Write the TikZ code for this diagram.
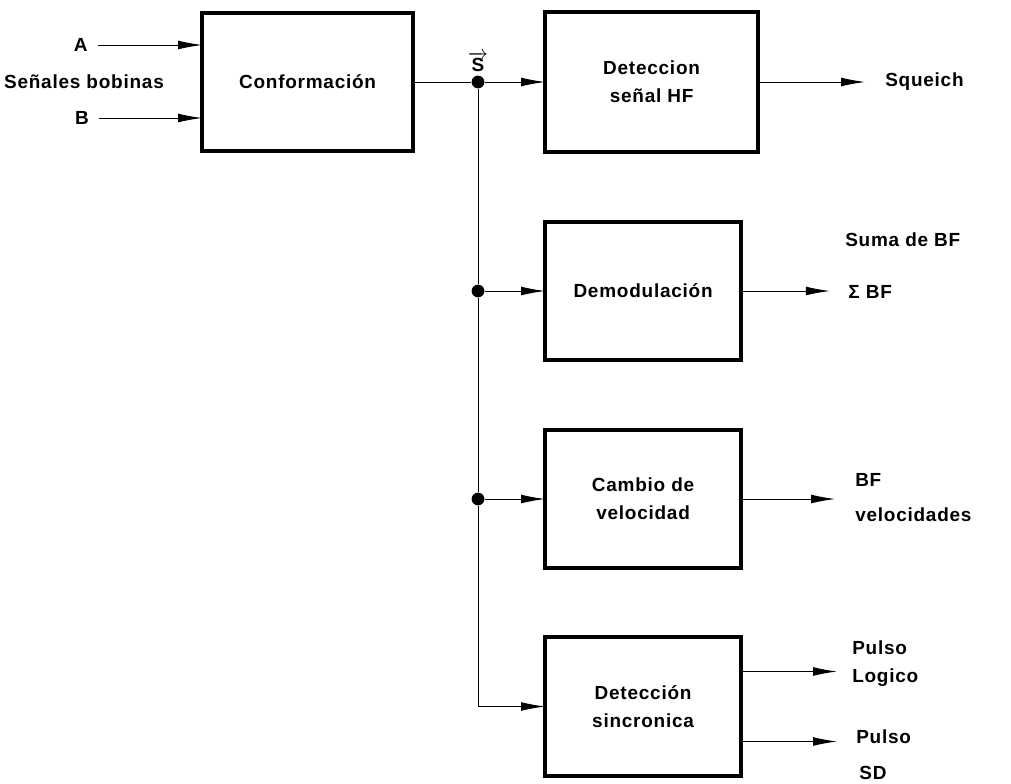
\documentclass[tikz,border=0pt]{standalone}
\usepackage{fontspec}
\setmainfont[LetterSpace=4]{Liberation Sans}
\usetikzlibrary{arrows.meta, positioning, calc}

\begin{document}
\begin{tikzpicture}[
    font=\fontsize{13.5}{20}\selectfont\bfseries,
    block/.style = {rectangle, draw, line width=2.4pt, outer sep=0pt, minimum width=4.9cm, minimum height=3.45cm, align=center},
    lbl/.style   = {align=left, anchor=west, inner sep=0pt},
    dot/.style   = {circle, fill, inner sep=0pt, minimum size=0.32cm},
    wire/.style  = {line width=0.7pt},
    arrow/.style = {line width=0.7pt, -{Latex[length=6mm, width=2.2mm]}}
]
    \useasboundingbox (0,0) rectangle (25.275,-19.6);

    % --- Bloques ---
    \node (conf)   [block, minimum width=5.275cm] at (7.69,-2.05) {Conformación};
    \node (hf)     [block, minimum width=5.325cm, minimum height=3.5cm] at (16.29,-2.05) {Deteccion\\señal HF};
    \node (demod)  [block, below=1.75cm of hf.south west, anchor=north west] {Demodulación};
    \node (cambio) [block, below=1.75cm of demod.south west, anchor=north west] {Cambio de\\velocidad};
    \node (sinc)   [block, below=1.725cm of cambio.south west, anchor=north west, minimum height=3.475cm] {Detección\\sincronica};

    % --- Entradas ---
    \node (a)   at (2.02,-1.125) {A};
    \node (bob) at (2.1,-2.05) {Señales bobinas};
    \node (b)   at (2.05,-2.95) {B};

    % --- Bus vertical ---
    \coordinate (bus) at (11.95,0);
    \node (j1) [dot] at (bus |- conf.east) {};
    \node (j2) [dot] at (bus |- demod.west) {};
    \node (j3) [dot] at (bus |- cambio.west) {};
    \coordinate (j4) at (bus |- sinc.west);
    \node (s) [above=0.05cm of j1, inner sep=1pt] {$\overrightarrow{\hbox{\bfseries S}}$};

    % --- Salidas ---
    \coordinate (o1)  at ([xshift=2.675cm]hf.east);
    \coordinate (o2)  at ([xshift=2.22cm]demod.east);
    \coordinate (o3)  at ([xshift=2.35cm]cambio.east);
    \coordinate (o4a) at ([xshift=2.4cm, yshift=0.875cm]sinc.east);
    \coordinate (o4b) at ([xshift=2.4cm, yshift=-0.875cm]sinc.east);

    \node (sq)  [lbl] at (22.125,-2.05) {Squeich};
    \node (sbf) [lbl] at (21.125,-6.65) {Suma de BF\\[0.6cm]\,Σ BF};
    \node (bfv) [lbl] at (21.375,-12.44) {BF\\[0.175cm]velocidades};
    \node (pl)  [lbl] at (21.3,-16.6) {Pulso\\Logico};
    \node (psd) [lbl] at (21.4,-18.875) {Pulso\\[0.2cm]\,SD};

    % --- Conexiones ---
    \draw [arrow, shorten <=4pt] (a) -- (a -| conf.west);
    \draw [arrow, shorten <=4pt] (b) -- (b -| conf.west);
    \draw [wire] (conf.east) -- (j1);
    \draw [arrow] (j1) -- (hf.west);
    \draw [wire] (j1) -- (j2);
    \draw [wire] (j2) -- (j3);
    \draw [wire] (j3) -- (j4);
    \draw [arrow] (j2) -- (demod.west);
    \draw [arrow] (j3) -- (cambio.west);
    \draw [arrow] (j4) -- (sinc.west);

    \draw [arrow] (hf.east) -- (o1);
    \draw [arrow] (demod.east) -- (o2);
    \draw [arrow] (cambio.east) -- (o3);
    \draw [arrow] (o4a -| sinc.east) -- (o4a);
    \draw [arrow] (o4b -| sinc.east) -- (o4b);

\end{tikzpicture}
\end{document}
